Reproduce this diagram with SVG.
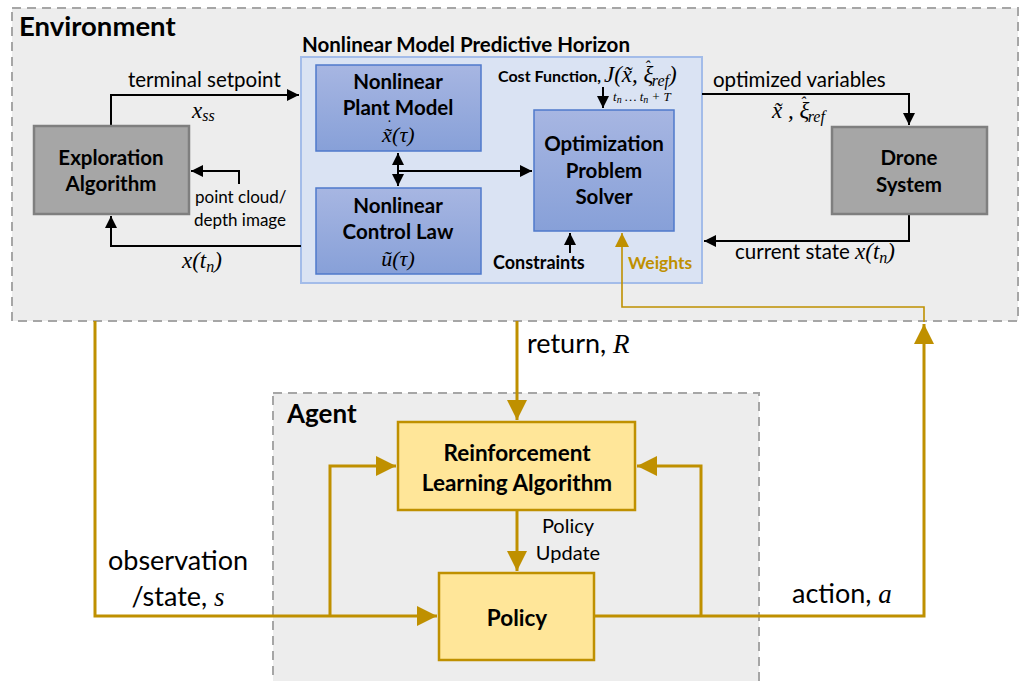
<svg xmlns="http://www.w3.org/2000/svg" width="1026" height="681" viewBox="0 0 1026 681">
<defs>
<linearGradient id="blueg" x1="0" y1="0" x2="0" y2="1">
<stop offset="0" stop-color="#a7b6e2"/>
<stop offset="1" stop-color="#87a0d8"/>
</linearGradient>
<marker id="ab" markerWidth="12" markerHeight="12" refX="10" refY="5" orient="auto" markerUnits="userSpaceOnUse" viewBox="0 0 10 10">
<path d="M0,0 L10,5 L0,10 z" fill="#000"/>
</marker>
<marker id="ag" markerWidth="20" markerHeight="20" refX="10" refY="5" orient="auto" markerUnits="userSpaceOnUse" viewBox="0 0 10 10">
<path d="M0,0 L10,5 L0,10 z" fill="#bf9000"/>
</marker>
<marker id="ags" markerWidth="14" markerHeight="14" refX="10" refY="5" orient="auto" markerUnits="userSpaceOnUse" viewBox="0 0 10 10">
<path d="M0,0 L10,5 L0,10 z" fill="#bf9000"/>
</marker>
</defs>
<style>
.t{font-family:Lato,"Open Sans","Liberation Sans",sans-serif;fill:#000}
.b{font-weight:bold}
.m{font-family:"Liberation Serif","DejaVu Serif",serif;font-style:italic;fill:#000}
.c{text-anchor:middle}
.n{font-size:20.5px}
.blue{fill:url(#blueg);stroke:#4f7acb;stroke-width:1.5}
.gray{fill:#a6a6a6;stroke:#7f7f7f;stroke-width:2.5}
.gold{fill:#ffe699;stroke:#bf9000;stroke-width:2.5}
.k{fill:none;stroke:#000;stroke-width:2}
.g{fill:none;stroke:#bf9000;stroke-width:3}
.gt{fill:none;stroke:#bf9000;stroke-width:1.6}
</style>
<rect width="1026" height="681" fill="#fff"/>
<g id="environment">
<rect x="12" y="8" width="1006" height="313" fill="#ededed" stroke="#a6a6a6" stroke-width="2" stroke-dasharray="9,6"/>
<text class="t b" x="19" y="36" font-size="27.5">Environment</text>
</g>
<g id="agent">
<rect x="273" y="393" width="486" height="300" fill="#ededed" stroke="#a6a6a6" stroke-width="2" stroke-dasharray="9,6"/>
<text class="t b" x="287" y="423" font-size="26">Agent</text>
</g>
<g id="mpc">
<rect x="301" y="57" width="401" height="226" fill="#dae3f3" stroke="#a3bce9" stroke-width="2"/>
<text class="t b" x="302" y="52" font-size="20" textLength="328" lengthAdjust="spacingAndGlyphs">Nonlinear Model Predictive Horizon</text>
</g>
<g id="connectors">
<polyline class="k" points="111,126 111,95 299,95" marker-end="url(#ab)"/>
<polyline class="k" points="239,184 239,171 191,171" marker-end="url(#ab)"/>
<polyline class="k" points="301,246 111,246 111,216" marker-end="url(#ab)"/>
<line class="k" x1="398" y1="162" x2="398" y2="153" marker-end="url(#ab)"/>
<line class="k" x1="398" y1="178" x2="398" y2="186" marker-end="url(#ab)"/>
<line class="k" x1="398" y1="160" x2="398" y2="180"/>
<polyline class="k" points="398,171 532,171" marker-end="url(#ab)"/>
<line class="k" x1="603" y1="87" x2="603" y2="108" marker-end="url(#ab)"/>
<line class="k" x1="570" y1="253" x2="570" y2="233" marker-end="url(#ab)"/>
<polyline class="k" points="702,94 909,94 909,125" marker-end="url(#ab)"/>
<polyline class="k" points="909,214 909,241 704,241" marker-end="url(#ab)"/>
<polyline class="gt" points="924,322 924,307 622,307 622,233" marker-end="url(#ags)"/>
<polyline class="g" points="95,321 95,616 437,616" marker-end="url(#ag)"/>
<polyline class="g" points="330,616 330,466 396,466" marker-end="url(#ag)"/>
<line class="g" x1="517" y1="321" x2="517" y2="420" marker-end="url(#ag)"/>
<line class="g" x1="517" y1="510" x2="517" y2="571" marker-end="url(#ag)"/>
<polyline class="g" points="594,616 924,616 924,324" marker-end="url(#ag)"/>
<polyline class="g" points="701,616 701,466 637,466" marker-end="url(#ag)"/>
</g>
<g id="exploration">
<rect class="gray" x="34" y="126" width="155" height="88"/>
<text class="t b c n" x="111" y="165">Exploration</text>
<text class="t b c n" x="111" y="191">Algorithm</text>
</g>
<g id="drone">
<rect class="gray" x="832" y="127" width="155" height="87"/>
<text class="t b c n" x="909" y="165">Drone</text>
<text class="t b c n" x="909" y="192">System</text>
</g>
<g id="plant-model">
<rect class="blue" x="316" y="65" width="165" height="86"/>
<text class="t b c n" x="398" y="89">Nonlinear</text>
<text class="t b c n" x="398" y="115">Plant Model</text>
<text class="m" x="382" y="142" font-size="22">x̃<tspan dx="-6" dy="-11" font-size="16">˙</tspan><tspan dx="1" dy="11">(τ)</tspan></text>
</g>
<g id="control-law">
<rect class="blue" x="316" y="188" width="165" height="86"/>
<text class="t b c n" x="398" y="213">Nonlinear</text>
<text class="t b c n" x="398" y="239">Control Law</text>
<text class="m c" x="398" y="266" font-size="22">ũ(τ)</text>
</g>
<g id="solver">
<rect class="blue" x="534" y="110" width="140" height="121"/>
<text class="t b c n" x="604" y="151">Optimization</text>
<text class="t b c n" x="604" y="178">Problem</text>
<text class="t b c n" x="604" y="204">Solver</text>
</g>
<g id="rl">
<rect class="gold" x="398" y="422" width="237" height="88"/>
<text class="t b c" x="517" y="461" font-size="22.5">Reinforcement</text>
<text class="t b c" x="517" y="491" font-size="22.5">Learning Algorithm</text>
</g>
<g id="policy">
<rect class="gold" x="439" y="573" width="155" height="87"/>
<text class="t b c" x="517" y="626" font-size="22.5">Policy</text>
</g>
<g id="labels">
<text class="t" x="128" y="87" font-size="20.5">terminal setpoint</text>
<text class="m" x="192" y="118" font-size="23">x<tspan font-size="16" dy="3">ss</tspan></text>
<text class="t" x="195" y="203" font-size="17">point cloud/</text>
<text class="t" x="194" y="226" font-size="17">depth image</text>
<text class="m" x="182" y="268" font-size="23">x(t<tspan font-size="16" dy="4">n</tspan><tspan dy="-4">)</tspan></text>
<text class="t b" x="498" y="82" font-size="16">Cost Function,</text>
<text class="m" x="604" y="82" font-size="23">J(x̃, ξ<tspan dx="-9" dy="-10" font-size="16">ˆ</tspan><tspan font-size="16" dx="2" dy="14">ref</tspan><tspan dy="-4">)</tspan></text>
<text class="m" x="613" y="101" font-size="13">t<tspan font-size="10" dy="2">n</tspan><tspan dy="-2"> … t</tspan><tspan font-size="10" dy="2">n</tspan><tspan dy="-2"> + T</tspan></text>
<text class="t" x="713" y="87" font-size="20.5">optimized variables</text>
<text class="m" x="772" y="118" font-size="23">x̃ , ξ<tspan dx="-9" dy="-10" font-size="16">ˆ</tspan><tspan font-size="16" dx="2" dy="14">ref</tspan></text>
<text class="t" x="735" y="259" font-size="20.5">current state <tspan class="m" font-size="23">x(t</tspan><tspan class="m" font-size="16" dy="4">n</tspan><tspan class="m" font-size="23" dy="-4">)</tspan></text>
<text class="t b" x="493" y="269" font-size="18">Constraints</text>
<text class="t b" x="628" y="269" font-size="17.5" style="fill:#bf9000">Weights</text>
<text class="t" x="527" y="353" font-size="27">return, <tspan class="m">R</tspan></text>
<text class="t c" x="568" y="533" font-size="20">Policy</text>
<text class="t c" x="568" y="560" font-size="20">Update</text>
<text class="t c" x="178" y="570" font-size="27">observation</text>
<text class="t c" x="178" y="606" font-size="27">/state, <tspan class="m">s</tspan></text>
<text class="t" x="792" y="603" font-size="27">action, <tspan class="m">a</tspan></text>
</g>
</svg>
